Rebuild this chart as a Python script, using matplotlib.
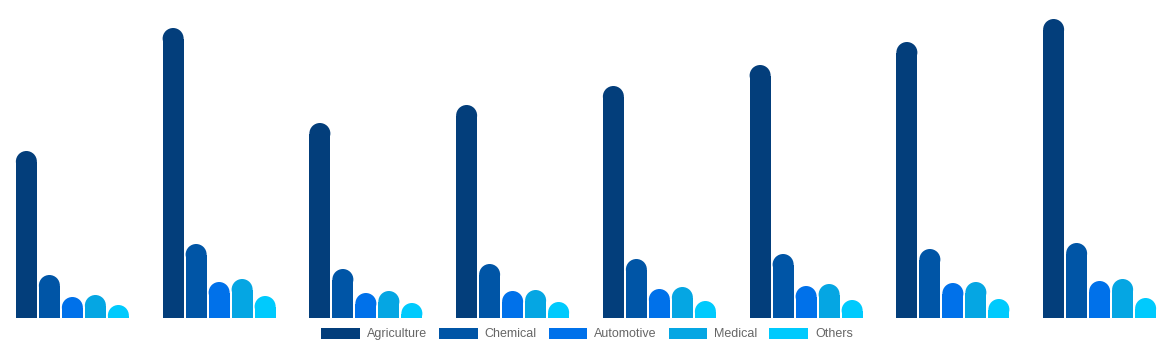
import matplotlib.pyplot as plt
from matplotlib.patches import Ellipse, Patch

# --- дані (оцінено з картинки) ---
groups = ["G1", "G2", "G3", "G4", "G5", "G6", "G7", "G8"]
series = ["Agriculture", "Chemical", "Automotive", "Medical", "Others"]
colors = ["#033E7B", "#0055A6", "#0071EA", "#05A6E3", "#00CAFD"]

agriculture = [167, 290, 195, 213, 232, 253, 276, 299]
chemical = [43, 74, 49, 54, 59, 64, 69, 75]
automotive = [21, 36, 25, 27, 29, 32, 35, 37]
medical = [23, 39, 27, 28, 31, 34, 36, 39]
others = [13, 22, 15, 16, 17, 18, 19, 20]

values = [agriculture, chemical, automotive, medical, others]

plt.rcParams["font.family"] = ["Liberation Sans", "DejaVu Sans"]

# --- графік ---
W, H = 1174, 350
fig = plt.figure(figsize=(W / 100, H / 100), dpi=100)
base_px = 318
ax = fig.add_axes([0, (H - base_px) / H, 1, base_px / H])
ymax = 318
ax.set_xlim(-0.5, len(groups) - 0.5)
ax.set_ylim(0, ymax)
ax.axis("off")

px_x = W / len(groups)          # пікселів на одну категорію
slot = 23 / px_x                # крок між стовпцями
bw = 21 / px_x                  # ширина стовпця
r_y = 10.5 * ymax / base_px     # радіус заокруглення в одиницях y

for k, (vals, c) in enumerate(zip(values, colors)):
    offs = (k - 2) * slot - 1 / px_x
    for i, v in enumerate(vals):
        x = i + offs
        ax.bar(x, v - r_y, width=bw, color=c, linewidth=0)
        ax.add_patch(Ellipse((x, v - r_y), bw, 2 * r_y, color=c, linewidth=0))

handles = [Patch(facecolor=c, edgecolor="none") for c in colors]
fig.legend(handles, series, loc="center", bbox_to_anchor=(0.5, 16 / H),
           ncol=5, frameon=False, handlelength=3.1, handleheight=1.0,
           handletextpad=0.55, columnspacing=0.95, fontsize=9,
           labelcolor="#666666")

plt.savefig("out.png", dpi=100)
